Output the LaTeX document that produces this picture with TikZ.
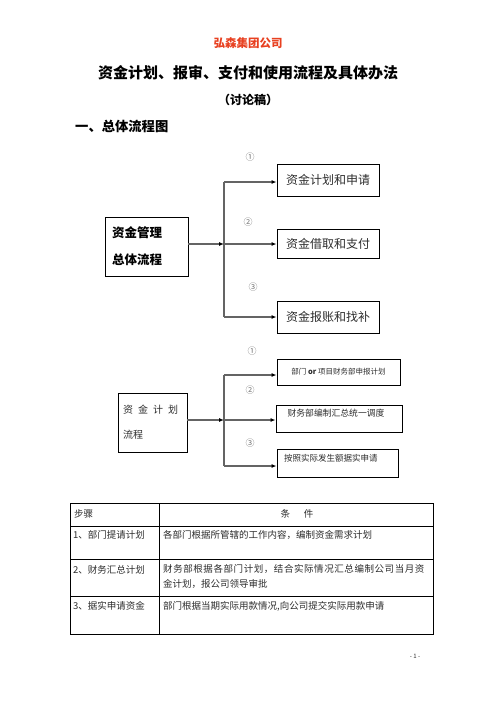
\documentclass[tikz,border=0pt]{standalone}
\usepackage{fontspec}
\setmainfont{Noto Sans CJK SC}
\usetikzlibrary{arrows.meta}
\definecolor{compred}{RGB}{232,64,32}
\definecolor{linegray}{RGB}{100,100,100}
\definecolor{txtgray}{RGB}{45,45,45}
\newcommand{\fs}[2]{\fontsize{#1}{#2}\selectfont}
\tikzset{
  box/.style={draw=black, line width=0.9pt, inner sep=0pt},
  conn/.style={draw=linegray, line width=1.6pt},
  arr/.style={conn, -{Latex[length=5pt,width=4pt,color=black]}},
  num/.style={font=\fs{9}{9}, text=black!55},
  plain/.style={inner sep=0pt, text=txtgray},
  cell/.style={inner sep=0pt, text=txtgray, font=\fs{9.5}{15}, align=left},
  grid/.style={draw=black, line width=0.9pt},
}
\begin{document}
\begin{tikzpicture}[x=1pt,y=-1pt]
\useasboundingbox[fill=white] (0,0) rectangle (496,702);

% headings
\node[inner sep=0pt, text=compred, font=\bfseries\fs{11.5}{12}] (company) at (248,43) {弘森集团公司};
\node[inner sep=0pt, font=\bfseries\fs{15}{16}] (title) at (248,73) {资金计划、报审、支付和使用流程及具体办法};
\node[inner sep=0pt, font=\bfseries\fs{12}{13}] (draft) at (248,100) {（讨论稿）};
\node[inner sep=0pt, anchor=west, font=\bfseries\fs{13.3}{14}] (sec1) at (75,126) {一、总体流程图};

% flowchart 1
\node[box, minimum width=83pt, minimum height=59pt, text width=69pt, align=left,
      font=\bfseries\fs{12.5}{27}] (m) at (146.5,246.5) {资金管理\\总体流程};
\node[box, minimum width=102pt, minimum height=32pt, font=\fs{12}{12}, text=txtgray] (f1) at (328,180) {资金计划和申请};
\node[box, minimum width=102pt, minimum height=29pt, font=\fs{12}{12}, text=txtgray] (f2) at (328,243.5) {资金借取和支付};
\node[box, minimum width=102pt, minimum height=32pt, font=\fs{12}{12}, text=txtgray] (f3) at (328,317) {资金报账和找补};
\coordinate (j1) at (224,244);
\coordinate (t1) at (224,182);
\coordinate (b1) at (224,317);
\draw[conn] (t1) -- (b1);
\draw[arr] (m.east |- j1) -- (j1);
\draw[arr] (t1) -- (t1 -| f1.west);
\draw[arr] (j1) -- (j1 -| f2.west);
\draw[arr] (b1) -- (b1 -| f3.west);
\node[num] (n11) at (250,157) {①};
\node[num] (n12) at (248,222) {②};
\node[num] (n13) at (253,287) {③};

% flowchart 2
\node[box, minimum width=69pt, minimum height=59pt, text width=59pt, align=left,
      font=\fs{10}{25}, text=txtgray] (p) at (152.5,422.5) {资\hspace{5pt}金\hspace{5pt}计\hspace{5pt}划\\流程};
\node[box, minimum width=123pt, minimum height=26pt, font=\fs{7.5}{8}, text=txtgray] (g1) at (338.5,372) {部门 \textbf{or} 项目财务部申报计划};
\node[box, minimum width=126pt, minimum height=27pt] (g2) at (339,418.5) {};
\node[plain, font=\fs{8.8}{9}] (g2t) at (336,413) {财务部编制汇总统一调度};
\node[box, minimum width=121pt, minimum height=28pt] (g3) at (337.5,463) {};
\node[plain, anchor=west, font=\fs{8.5}{9}] (g3t) at (284,458) {按照实际发生额据实申请};
\coordinate (j2) at (224,420);
\coordinate (t2) at (224,375);
\coordinate (b2) at (224,466);
\draw[conn] (t2) -- (b2);
\draw[arr] (p.east |- j2) -- (j2);
\draw[arr] (t2) -- (t2 -| g1.west);
\draw[arr] (j2) -- (j2 -| g2.west);
\draw[arr] (b2) -- (b2 -| g3.west);
\node[num] (n21) at (252,351) {①};
\node[num] (n22) at (250,390) {②};
\node[num] (n23) at (250,443) {③};

% table
\draw[grid] (70,503) rectangle (433,634);
\draw[grid] (159,503) -- (159,634);
\draw[grid] (70,526) -- (433,526);
\draw[grid] (70,559) -- (433,559);
\draw[grid] (70,596) -- (433,596);
\node[cell, anchor=west] (h1) at (74,514) {步骤};
\node[cell] (h2) at (297,514) {条\hspace{14pt}件};
\node[cell, anchor=west] (r1a) at (73,535) {1、部门提请计划};
\node[cell, anchor=west] (r1b) at (163,535) {各部门根据所管辖的工作内容，编制资金需求计划};
\node[cell, anchor=west] (r2a) at (73,570) {2、财务汇总计划};
\node[cell, anchor=north west] (r2b) at (163,564) {{\addfontfeature{LetterSpace=6}财务部根据各部门计划，结合实际情况汇总编制公司当月资}\\金计划，报公司领导审批};
\node[cell, anchor=west] (r3a) at (73,606) {3、据实申请资金};
\node[cell, anchor=west] (r3b) at (163,606) {部门根据当期实际用款情况,向公司提交实际用款申请};

% page number
\node[plain, font=\fs{6}{6}] (pg) at (415,656) {- 1 -};
\end{tikzpicture}
\end{document}
